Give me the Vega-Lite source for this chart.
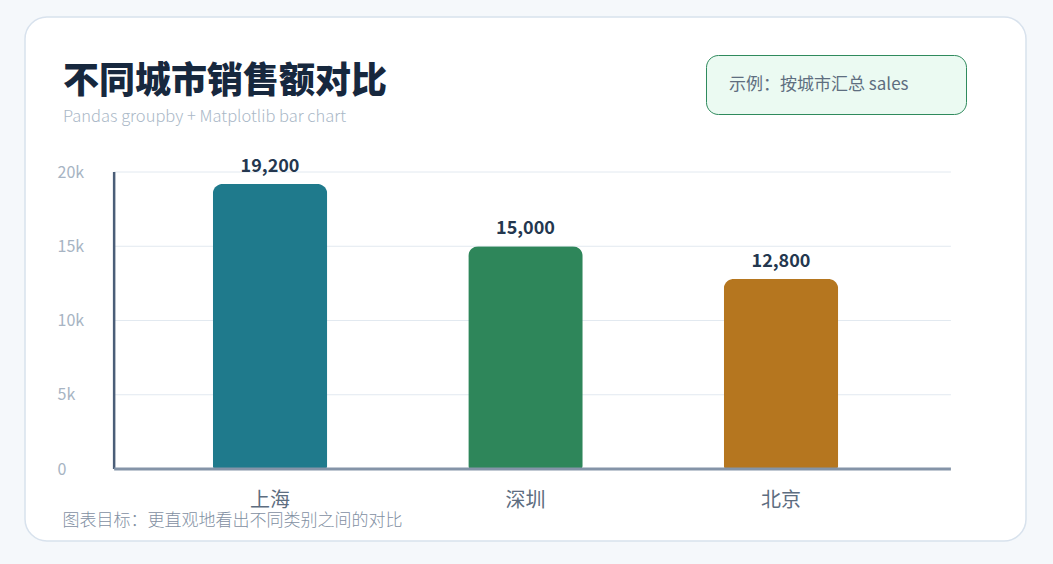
{
  "$schema": "https://vega.github.io/schema/vega-lite/v6.json",
  "width": 1001,
  "height": 524,
  "autosize": {"type": "none"},
  "padding": {"left": 25, "top": 17, "right": 27, "bottom": 23},
  "background": "#f5f8fb",
  "view": {"fill": "#ffffff", "stroke": "#d8e2ed", "strokeWidth": 1.5, "cornerRadius": 22},
  "config": {
    "font": "Noto Sans CJK SC"
  },
  "title": {
    "text": "不同城市销售额对比",
    "subtitle": "Pandas groupby + Matplotlib bar chart",
    "anchor": "start",
    "frame": "group",
    "dx": 38,
    "offset": -109,
    "fontSize": 36,
    "fontWeight": 900,
    "color": "#17283e",
    "subtitleFontSize": 16.5,
    "subtitleColor": "#aab8c7",
    "subtitleFontWeight": 300,
    "subtitlePadding": 8
  },
  "data": {
    "values": [
      {"city": "上海", "sales": 19200},
      {"city": "深圳", "sales": 15000},
      {"city": "北京", "sales": 12800}
    ]
  },
  "resolve": {"scale": {"x": "independent"}},
  "layer": [
    {
      "data": {"values": [{"v": 5000}, {"v": 10000}, {"v": 15000}, {"v": 20000}]},
      "mark": {"type": "rule", "color": "#e2e9f0", "strokeWidth": 1},
      "encoding": {
        "x": {"datum": -0.61, "type": "quantitative", "scale": {"domain": [-0.9589, 2.9589], "nice": false, "zero": false}, "axis": null},
        "x2": {"datum": 2.665},
        "y": {"field": "v", "type": "quantitative", "scale": {"domain": [-4848.5, 30438], "nice": false, "zero": false}}
      }
    },
    {
      "layer": [
        {
          "mark": {"type": "bar", "cornerRadiusTopLeft": 10, "cornerRadiusTopRight": 10, "cornerRadiusBottomLeft": 3, "cornerRadiusBottomRight": 3},
          "encoding": {
            "x": {
              "field": "city", "type": "nominal", "sort": null,
              "scale": {"domain": ["上海", "深圳", "北京"], "paddingInner": 0.552, "paddingOuter": 0.735},
              "axis": {
                "orient": "bottom", "offset": -41, "domain": false, "ticks": false, "grid": false, "labelAngle": 0,
                "labelPadding": 0, "labelBaseline": "middle", "labelFontSize": 20, "labelColor": "#5d6d80",
                "title": "图表目标：更直观地看出不同类别之间的对比",
                "titleAnchor": "start", "titleAlign": "left", "titleX": 37, "titleY": 20,
                "titleBaseline": "middle", "titleFontSize": 17, "titleFontWeight": 300, "titleColor": "#7f8fa2"
              }
            },
            "y": {
              "field": "sales", "type": "quantitative",
              "scale": {"domain": [-4848.5, 30438], "nice": false, "zero": false},
              "axis": {
                "offset": -32,
                "values": [0, 5000, 10000, 15000, 20000],
                "labelExpr": "datum.value == 0 ? '0' : (datum.value / 1000) + 'k'",
                "domain": false, "ticks": false, "grid": false,
                "labelAlign": "left", "labelPadding": 0, "labelBaseline": "middle",
                "labelFontSize": 16, "labelColor": "#a7b4c3", "title": null
              }
            },
            "color": {
              "field": "city", "type": "nominal",
              "scale": {"domain": ["上海", "深圳", "北京"], "range": ["#1f7a8c", "#2e865a", "#b5761f"]},
              "legend": null
            }
          }
        },
        {
          "mark": {"type": "text", "dy": -17, "baseline": "middle", "fontSize": 18, "fontWeight": "bold", "color": "#24374f"},
          "encoding": {
            "x": {"field": "city", "type": "nominal", "sort": null},
            "y": {"field": "sales", "type": "quantitative", "scale": {"domain": [-4848.5, 30438], "nice": false, "zero": false}},
            "text": {"field": "sales", "type": "quantitative", "format": ","}
          }
        },
        {
          "data": {"values": [{"note": "示例：按城市汇总 sales"}]},
          "mark": {"type": "point", "opacity": 0},
          "encoding": {
            "shape": {
              "field": "note", "type": "nominal",
              "legend": {
                "orient": "none", "legendX": 681, "legendY": 38, "title": null,
                "fillColor": "#ebfaf2", "strokeColor": "#2f8a5d", "cornerRadius": 12,
                "padding": 21, "symbolSize": 0, "symbolStrokeWidth": 0, "symbolOpacity": 0, "labelOffset": -15,
                "labelFontSize": 17, "labelColor": "#5e6e80", "labelLimit": 400,
                "labelExpr": "datum.label + '\u2800\u2800\u2800'"
              }
            }
          }
        }
      ]
    },
    {
      "data": {"values": [{}]},
      "layer": [
        {
          "mark": {"type": "rule", "color": "#4b5e78", "strokeWidth": 2.5},
          "encoding": {
            "x": {"datum": -0.61, "type": "quantitative", "scale": {"domain": [-0.9589, 2.9589], "nice": false, "zero": false}, "axis": null},
            "y": {"datum": 0, "type": "quantitative", "scale": {"domain": [-4848.5, 30438], "nice": false, "zero": false}},
            "y2": {"datum": 20000}
          }
        },
        {
          "mark": {"type": "rule", "color": "#8494a8", "strokeWidth": 3},
          "encoding": {
            "x": {"datum": -0.61, "type": "quantitative", "scale": {"domain": [-0.9589, 2.9589], "nice": false, "zero": false}, "axis": null},
            "x2": {"datum": 2.665},
            "y": {"datum": 0, "type": "quantitative", "scale": {"domain": [-4848.5, 30438], "nice": false, "zero": false}}
          }
        }
      ]
    }
  ]
}
